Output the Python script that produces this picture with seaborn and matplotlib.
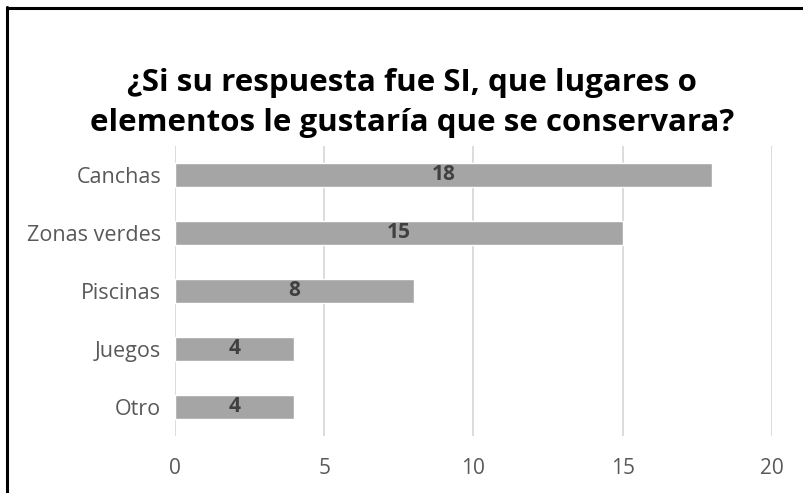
import matplotlib
matplotlib.use("Agg")
import matplotlib.pyplot as plt
import seaborn as sns
import pandas as pd

categories = ["Canchas", "Zonas verdes", "Piscinas", "Juegos", "Otro"]
values = [18, 15, 8, 4, 4]
x_ticks = [0, 5, 10, 15, 20]
title = "¿Si su respuesta fue SI, que lugares o\nelementos le gustaría que se conservara?"

sns.set_theme(style="white")
plt.rcParams["font.family"] = ["Open Sans", "DejaVu Sans"]

df = pd.DataFrame({"lugar": categories, "n": values})

W, H = 804, 493
fig = plt.figure(figsize=(W / 100, H / 100), dpi=100)
ax = fig.add_axes([175 / W, 1 - 436 / H, (772 - 175) / W, (436 - 146) / H])

sns.barplot(data=df, x="n", y="lugar", color="#A5A5A5", width=0.40,
            saturation=1, ax=ax, zorder=3)

ax.set_xlim(0, 20)
ax.set_ylim(4.5, -0.5)
ax.set_xticks(x_ticks)
ax.set_xticklabels([str(t) for t in x_ticks])
ax.xaxis.grid(True, color="#D9D9D9", linewidth=1.3, zorder=0)
ax.yaxis.grid(False)
for s in ax.spines.values():
    s.set_visible(False)
ax.set_xlabel("")
ax.set_ylabel("")
ax.tick_params(axis="x", length=0, pad=16, labelsize=15, labelcolor="#595959")
ax.tick_params(axis="y", length=0, pad=10, labelsize=15.5, labelcolor="#595959")

for i, v in enumerate(values):
    ax.text(v / 2, i, str(v), ha="center", va="center", fontsize=15,
            fontweight="bold", color="#404040", zorder=4)

fig.text(412 / W, 1 - 103 / H, title, ha="center", va="center",
         fontsize=22.5, fontweight="bold", color="#000000", linespacing=1.45)

# frame on the top and left edges
fig.add_artist(plt.Line2D([7 / W, 7 / W], [0, 1 - 7 / H], transform=fig.transFigure,
                          color="black", linewidth=2.2))
fig.add_artist(plt.Line2D([7 / W, 1], [1 - 8 / H, 1 - 8 / H], transform=fig.transFigure,
                          color="black", linewidth=2.2))

fig.savefig("out.png", dpi=100)
